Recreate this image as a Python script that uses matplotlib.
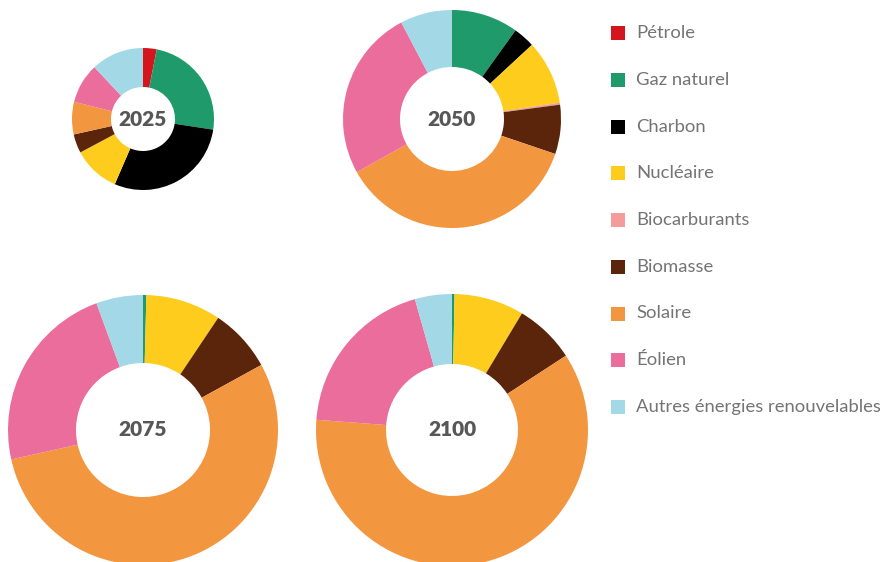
import matplotlib.pyplot as plt
from matplotlib.patches import Rectangle

labels = ["Pétrole", "Gaz naturel", "Charbon", "Nucléaire", "Biocarburants",
          "Biomasse", "Solaire", "Éolien", "Autres énergies renouvelables"]
colors = ["#D5151D", "#1F9A6B", "#000000", "#FECC1C", "#F39C9A",
          "#5B250C", "#F39640", "#EB6D9C", "#A3D8E6"]

years = ["2025", "2050", "2075", "2100"]
# share of each source (percent), same order as labels
mix_2025 = [3.1, 24.3, 29.1, 10.7, 0.0, 4.3, 7.4, 9.1, 12.0]
mix_2050 = [0.0, 9.9, 3.2, 9.5, 0.3, 7.3, 36.7, 25.4, 7.7]
mix_2075 = [0.0, 0.4, 0.0, 9.0, 0.0, 7.6, 54.5, 22.9, 5.6]
mix_2100 = [0.0, 0.3, 0.0, 8.3, 0.0, 7.2, 60.4, 19.4, 4.4]
mixes = [mix_2025, mix_2050, mix_2075, mix_2100]

W, H = 886, 562
# (x, y) in pixels from top-left, outer radius, inner radius
layout = [((143, 119), 71, 32),
          ((452, 119), 109, 52),
          ((143, 430), 135, 67),
          ((452, 430), 136, 66)]

fig = plt.figure(figsize=(W / 100, H / 100), dpi=100)
ax = fig.add_axes([0, 0, 1, 1])

for year, mix, ((cx, cy), r_out, r_in) in zip(years, mixes, layout):
    center = (cx, H - cy)
    ax.pie(mix, colors=colors, radius=r_out, center=center, startangle=90,
           counterclock=False, normalize=True,
           wedgeprops=dict(width=r_out - r_in, linewidth=0))
    ax.text(center[0], center[1], year, ha="center", va="center",
            fontsize=15, fontweight="heavy", color="#575757", family="Lato")

# legend
lx, ly0, step, sq = 611, 33, 46.75, 14
for i, (lab, col) in enumerate(zip(labels, colors)):
    y = H - (ly0 + i * step)
    ax.add_patch(Rectangle((lx, y - sq / 2), sq, sq, color=col, linewidth=0))
    ax.text(lx + 25, y, lab, ha="left", va="center", fontsize=13.3,
            fontweight="normal", color="#747474", family="Lato")

ax.set_xlim(0, W)
ax.set_ylim(0, H)
ax.set_aspect("equal")
ax.axis("off")

fig.savefig("out.png", dpi=100)
